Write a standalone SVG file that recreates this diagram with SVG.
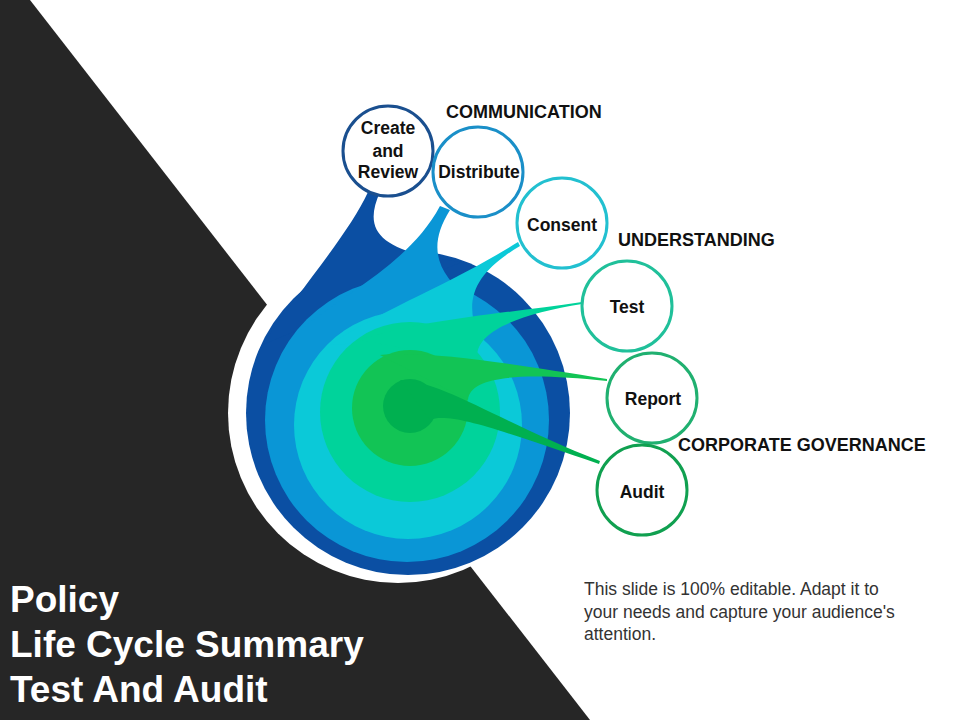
<svg xmlns="http://www.w3.org/2000/svg" width="960" height="720" viewBox="0 0 960 720">
<style>
.nd{fill:#fff;stroke-width:3}
.nt{font-family:"Liberation Sans",Arial,sans-serif;font-weight:bold;font-size:17.5px;fill:#111;text-anchor:middle}
.lb{font-family:"Liberation Sans",Arial,sans-serif;font-weight:bold;font-size:18px;fill:#111}
.tt{font-family:"Liberation Sans",Arial,sans-serif;font-weight:bold;font-size:37px;fill:#fff}
.bd{font-family:"Liberation Sans",Arial,sans-serif;font-size:17.5px;fill:#333}
</style>
<rect width="960" height="720" fill="#fff"/>
<polygon points="0,0 30,0 590,720 0,720" fill="#262626"/>
<circle cx="398" cy="413" r="170" fill="#fff"/>
<g id="spiral">
<circle cx="408" cy="413" r="162" fill="#0b4fa3"/>
<path d="M262,345 C300,290 350,232 368,192 L380,192 C362,232 380,252 462,262 Z" fill="#0b4fa3"/>
<circle cx="407" cy="420" r="142" fill="#0a96d6"/>
<path d="M300,330 C350,290 410,262 440,206 L450,210 C425,250 440,275 470,300 L460,330 Z" fill="#0a96d6"/>
<circle cx="408" cy="425" r="114" fill="#0bc9d8"/>
<path d="M330,345 C380,310 450,285 518,242 L520,246 C480,270 462,295 478,335 Z" fill="#0bc9d8"/>
<circle cx="410" cy="412" r="90" fill="#00d39b"/>
<path d="M360,340 C420,320 500,314 582,302 L582,304 C520,314 470,332 478,362 Z" fill="#00d39b"/>
<circle cx="410" cy="408" r="58" fill="#12c455"/>
<path d="M380,355 C430,350 510,364 607,379 L607,381 C520,372 470,376 468,400 Z" fill="#12c455"/>
<circle cx="410" cy="406" r="27" fill="#00b050"/>
<path d="M400,380 C440,380 500,422 600,461 L599,464 C500,430 450,412 430,420 Z" fill="#00b050"/>
</g>
<g id="connectors"></g>
<g id="n-create"><circle class="nd" cx="388" cy="151" r="45" stroke="#1a4f8f"/><text class="nt" x="388" y="134">Create</text><text class="nt" x="388" y="157">and</text><text class="nt" x="388" y="178">Review</text></g>
<g id="n-distribute"><circle class="nd" cx="478" cy="172" r="45" stroke="#1a8fc8"/><text class="nt" x="479" y="178">Distribute</text></g>
<g id="n-consent"><circle class="nd" cx="562" cy="223" r="45" stroke="#22c0d0"/><text class="nt" x="562" y="231">Consent</text></g>
<g id="n-test"><circle class="nd" cx="627" cy="306" r="45" stroke="#20c09a"/><text class="nt" x="627" y="313">Test</text></g>
<g id="n-report"><circle class="nd" cx="652" cy="398" r="45" stroke="#20b070"/><text class="nt" x="653" y="405">Report</text></g>
<g id="n-audit"><circle class="nd" cx="642" cy="490" r="45" stroke="#10a050"/><text class="nt" x="642" y="498">Audit</text></g>
<text class="lb" x="446" y="118">COMMUNICATION</text>
<text class="lb" x="618" y="246">UNDERSTANDING</text>
<text class="lb" x="678" y="451">CORPORATE GOVERNANCE</text>
<text class="tt" x="10" y="612">Policy</text>
<text class="tt" x="10" y="657">Life Cycle Summary</text>
<text class="tt" x="10" y="702">Test And Audit</text>
<text class="bd" x="584" y="595">This slide is 100% editable. Adapt it to</text>
<text class="bd" x="584" y="618">your needs and capture your audience's</text>
<text class="bd" x="584" y="640">attention.</text>
</svg>
